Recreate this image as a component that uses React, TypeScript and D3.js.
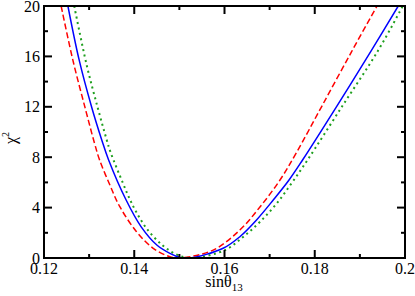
import React from "react";
import * as d3 from "d3";

const xTicks = [0.12, 0.14, 0.16, 0.18, 0.2];
const xTickLabels = ["0.12", "0.14", "0.16", "0.18", "0.2"];
const xMinor = [0.13, 0.15, 0.17, 0.19];
const yTicks = [0, 4, 8, 12, 16, 20];
const yMinor = [2, 6, 10, 14, 18];

const blueX = [0.1253, 0.1278, 0.1306, 0.1328, 0.1343, 0.1382, 0.1415, 0.145, 0.1479, 0.1501, 0.1524, 0.1597, 0.1634, 0.1671, 0.1708, 0.1743, 0.1773, 0.1848, 0.1926, 0.1985];
const blueY = [20, 15.7, 11.93, 9.37, 7.8, 4.6, 2.49, 1.03, 0.37, 0.05, 0, 0.77, 1.69, 3.02, 4.6, 6.19, 7.78, 12.0, 16.5, 20];

const redX = [0.1238, 0.1264, 0.1291, 0.1312, 0.1323, 0.1346, 0.1368, 0.1405, 0.1442, 0.1479, 0.15, 0.1575, 0.1634, 0.1679, 0.1723, 0.176, 0.1815, 0.1882, 0.1938];
const redY = [20, 15.7, 11.93, 9.1, 7.8, 5.79, 4.07, 2.09, 0.77, 0.1, 0, 0.63, 2.22, 4.07, 6.19, 8.4, 12.0, 16.4, 20];

const greenX = [0.1267, 0.1294, 0.1319, 0.1339, 0.1347, 0.1375, 0.1391, 0.1404, 0.1427, 0.1462, 0.1496, 0.153, 0.1601, 0.1642, 0.1679, 0.1716, 0.1749, 0.1784, 0.186, 0.1941, 0.1995];
const greenY = [20, 15.4, 11.93, 9.37, 8.44, 5.93, 4.6, 3.68, 2.36, 1.03, 0.24, 0, 0.63, 1.69, 2.88, 4.34, 5.95, 7.78, 12.0, 16.5, 20];

const W = 415;
const H = 296;
const L = 44, R = 405, T = 6, B = 258;

export default function App() {
  const x = d3.scaleLinear().domain([0.12, 0.2]).range([L, R]);
  const y = d3.scaleLinear().domain([0, 20]).range([B, T]);
  const line = d3
    .line<[number, number]>()
    .x((d) => x(d[0]))
    .y((d) => y(d[1]))
    .curve(d3.curveCatmullRom.alpha(0.5));
  const zip = (a: number[], b: number[]) => a.map((v, i) => [v, b[i]] as [number, number]);
  const major = 8, minor = 4;
  const tf = { fontFamily: `"Liberation Serif"` };
  return (
    <svg width={W} height={H} style={{ position: "absolute", left: 0, top: 0 }}>
      <rect x={0} y={0} width={W} height={H} fill="#fff" />
      <defs>
        <clipPath id="plot">
          <rect x={L} y={T} width={R - L} height={B - T} />
        </clipPath>
      </defs>
      <g clipPath="url(#plot)" fill="none">
        <path d={line(zip(greenX, greenY)) || ""} stroke="#1f9f1f" strokeWidth={2} strokeDasharray="2,3.5" />
        <path d={line(zip(redX, redY)) || ""} stroke="#ff0000" strokeWidth={1.5} strokeDasharray="6,3" />
        <path d={line(zip(blueX, blueY)) || ""} stroke="#0000ff" strokeWidth={1.5} />
      </g>
      <g stroke="#000" strokeWidth={2}>
        {xTicks.map((t) => (
          <g key={"xt" + t}>
            <line x1={x(t)} x2={x(t)} y1={B} y2={B - major} />
            <line x1={x(t)} x2={x(t)} y1={T} y2={T + major} />
          </g>
        ))}
        {xMinor.map((t) => (
          <g key={"xm" + t}>
            <line x1={x(t)} x2={x(t)} y1={B} y2={B - minor} />
            <line x1={x(t)} x2={x(t)} y1={T} y2={T + minor} />
          </g>
        ))}
        {yTicks.map((t) => (
          <g key={"yt" + t}>
            <line x1={L} x2={L + major} y1={y(t)} y2={y(t)} />
            <line x1={R} x2={R - major} y1={y(t)} y2={y(t)} />
          </g>
        ))}
        {yMinor.map((t) => (
          <g key={"ym" + t}>
            <line x1={L} x2={L + minor} y1={y(t)} y2={y(t)} />
            <line x1={R} x2={R - minor} y1={y(t)} y2={y(t)} />
          </g>
        ))}
      </g>
      <rect x={L} y={T} width={R - L} height={B - T} fill="none" stroke="#000" strokeWidth={2} />
      {xTicks.map((t, i) => (
        <text key={"xl" + t} x={x(t)} y={274} textAnchor="middle" fontSize={16} style={tf}>
          {xTickLabels[i]}
        </text>
      ))}
      {yTicks.map((t) => (
        <text key={"yl" + t} x={40} y={y(t) + 5.5} textAnchor="end" fontSize={16} style={tf}>
          {String(t)}
        </text>
      ))}
      <text x={224} y={287} textAnchor="middle" fontSize={16} style={tf}>
        sinθ<tspan fontSize={11} dy={4}>13</tspan>
      </text>
      <text transform="translate(16,138) rotate(-90)" textAnchor="middle" fontSize={16} style={tf}>
        χ<tspan fontSize={10} dy={-7}>2</tspan>
      </text>
    </svg>
  );
}
